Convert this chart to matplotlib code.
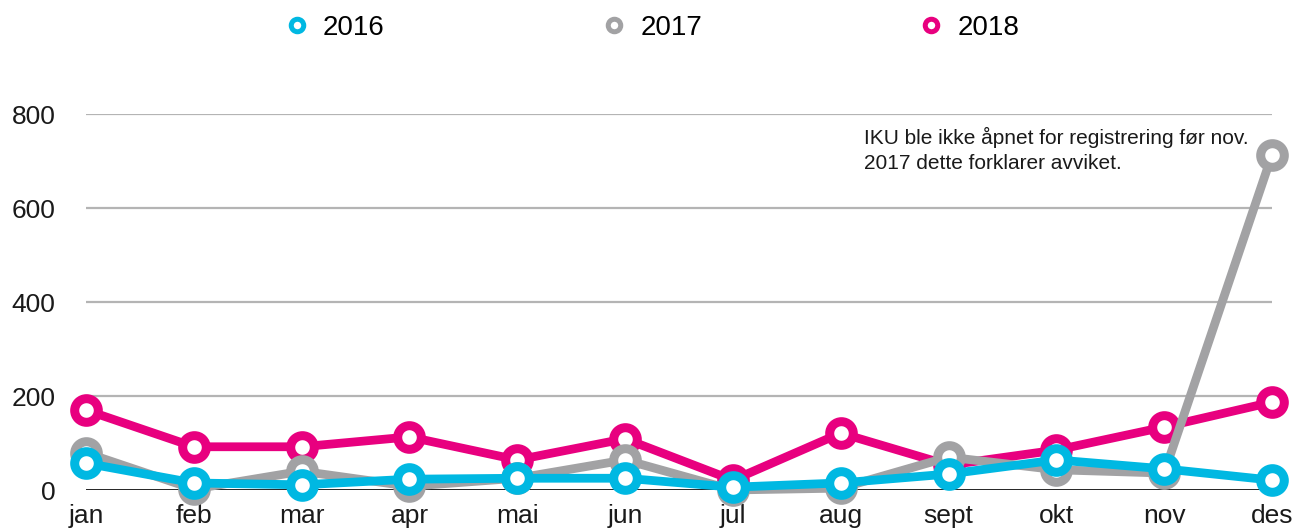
import matplotlib
matplotlib.use("Agg")
from matplotlib import pyplot as plt
from matplotlib.lines import Line2D

plt.rcParams['font.family'] = ['Liberation Sans', 'DejaVu Sans']

months = ['jan', 'feb', 'mar', 'apr', 'mai', 'jun', 'jul', 'aug', 'sept', 'okt', 'nov', 'des']
y2016 = [57, 15, 11, 23, 25, 25, 6, 15, 34, 64, 45, 21]
y2017 = [79, 2, 40, 8, 25, 64, 0, 4, 70, 43, 36, 713]
y2018 = [170, 92, 92, 113, 64, 109, 21, 121, 53, 85, 134, 187]
years = ['2016', '2017', '2018']
yticks = [0, 200, 400, 600, 800]
note = "IKU ble ikke åpnet for registrering før nov.\n2017 dette forklarer avviket."

BLUE = '#00b8e2'
GREY = '#a2a2a4'
PINK = '#e8007f'

fig = plt.figure(figsize=(12.97, 5.29), dpi=100)
ax = fig.add_axes([86 / 1297, 1 - 490 / 529, (1272 - 86) / 1297, (490 - 114) / 529])

x = list(range(len(months)))

# grid lines
for t in yticks[1:]:
    ax.axhline(t, color='#b4b4b4', linewidth=1.6, zorder=0)
ax.axhline(0, color='black', linewidth=1.2, zorder=0)

series = [(y2018, PINK, '2018', 2), (y2017, GREY, '2017', 3), (y2016, BLUE, '2016', 4)]
for vals, col, lab, z in series:
    ax.plot(x, vals, color=col, linewidth=6.3, marker='o', markersize=17,
            markerfacecolor='white', markeredgecolor=col, markeredgewidth=6.5,
            zorder=z, clip_on=False, solid_joinstyle='round')

ax.set_xlim(0, 11)
ax.set_ylim(0, 800)
ax.set_xticks(x)
ax.set_xticklabels(months, fontsize=19, color='#1a1a1a')
ax.set_yticks(yticks)
ax.set_yticklabels([str(t) for t in yticks], fontsize=19, color='#1a1a1a')
ax.tick_params(length=0)
ax.tick_params(axis='x', pad=10)
ax.tick_params(axis='y', pad=22)
for s in ax.spines.values():
    s.set_visible(False)

ax.text(7.22, 772, note, fontsize=15, color='#1a1a1a', va='top', ha='left',
        linespacing=1.4)

# legend
handles = [Line2D([], [], linestyle='none', marker='o', markersize=9,
                  markerfacecolor='white', markeredgecolor=c, markeredgewidth=3.6)
           for c in (BLUE, GREY, PINK)]
fig.legend(handles, years, loc='center', bbox_to_anchor=(0.502, 1 - 28 / 529), ncol=3,
           frameon=False, fontsize=20, handlelength=1.0, handletextpad=0.45,
           columnspacing=7.75)

fig.savefig('out.png', dpi=100)
